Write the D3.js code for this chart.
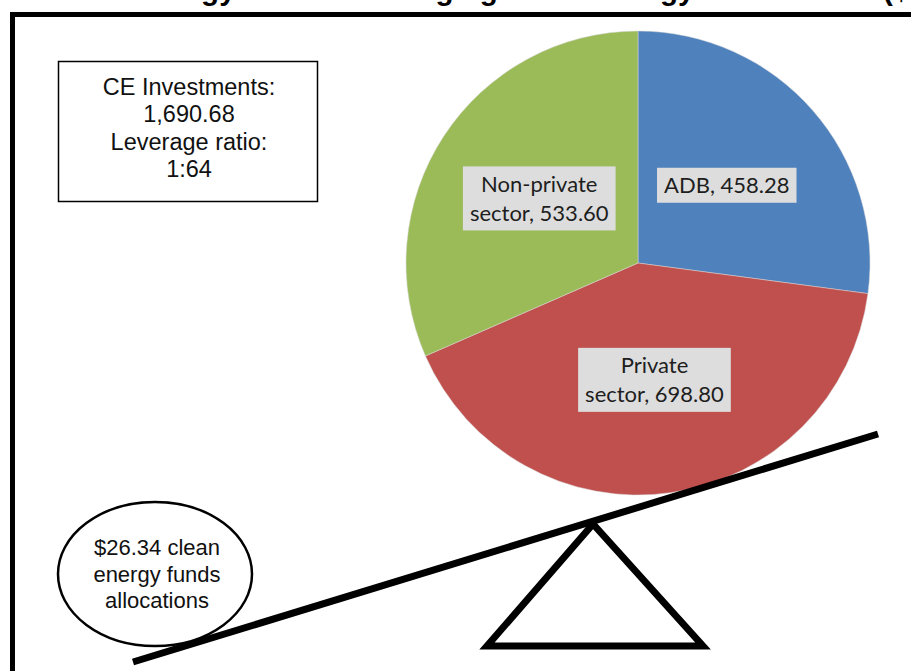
<!DOCTYPE html>
<html>
<head>
<meta charset="utf-8">
<script src="https://cdn.jsdelivr.net/npm/d3@7"></script>
<style>
  body { margin: 0; background: #fff; }
  svg { display: block; }
</style>
</head>
<body>
<div id="chart"></div>
<script>
// data
const sectors = ["ADB", "Private sector", "Non-private sector"]
const amounts = [458.28, 698.80, 533.60]
const sectorColors = ["#4F81BD", "#C0504D", "#9BBB59"]
const labelLines = [["ADB, 458.28"], ["Private", "sector, 698.80"], ["Non-private", "sector, 533.60"]]
const infoLines = ["CE Investments:", "1,690.68", "Leverage ratio:", "1:64"]
const fundLines = ["$26.34 clean", "energy funds", "allocations"]
const titleText = "Clean Energy Funds Leveraging Clean Energy Investments ($ million)"

const WIDTH = 911
const HEIGHT = 671

const svg = d3.select("#chart").append("svg")
  .attr("width", WIDTH)
  .attr("height", HEIGHT)

// title, cropped off the top in the original: only descenders show
svg.append("text")
  .attr("x", 47)
  .attr("y", 0)
  .attr("font-family", "Liberation Sans, Arial, sans-serif")
  .attr("font-weight", "bold")
  .attr("font-size", "29.5px")
  .attr("fill", "#000")
  .text(titleText)

// outer frame (right and bottom edges cut off)
svg.append("rect")
  .attr("x", 12.5)
  .attr("y", 14.5)
  .attr("width", 1000)
  .attr("height", 1000)
  .attr("fill", "none")
  .attr("stroke", "#000")
  .attr("stroke-width", 5)

// info box
const info = svg.append("g")
info.append("rect")
  .attr("x", 58.5)
  .attr("y", 61.5)
  .attr("width", 259)
  .attr("height", 140)
  .attr("fill", "#fff")
  .attr("stroke", "#000")
  .attr("stroke-width", 1.5)
info.selectAll("text")
  .data(infoLines)
  .enter().append("text")
    .attr("x", 189)
    .attr("y", (d, i) => 95 + i * 27.3)
    .attr("text-anchor", "middle")
    .attr("font-family", "Liberation Sans, Arial, sans-serif")
    .attr("font-size", "23.5px")
    .attr("fill", "#111")
    .text(d => d)

// pie
const cx = 638, cy = 263, R = 232
const pie = d3.pie().sort(null).value(d => d)
const arc = d3.arc().innerRadius(0).outerRadius(R)
const slices = pie(amounts)

const pieG = svg.append("g")
  .attr("transform", `translate(${cx}, ${cy})`)

pieG.selectAll("path")
  .data(slices)
  .enter().append("path")
    .attr("d", arc)
    .attr("fill", (d, i) => sectorColors[i])
    .attr("stroke", "#d8d8d8")
    .attr("stroke-width", 0.5)

// data labels in grey boxes
const labelArc = d3.arc().innerRadius(0).outerRadius(R + 4)
const lineH = 29
slices.forEach((d, i) => {
  const [lx, ly] = labelArc.centroid(d)
  const lines = labelLines[i]
  const g = pieG.append("g").attr("transform", `translate(${lx}, ${ly})`)
  const box = g.append("rect").attr("fill", "#DDDDDD")
  const txt = g.selectAll("text")
    .data(lines)
    .enter().append("text")
      .attr("x", 0)
      .attr("y", (t, j) => (j - (lines.length - 1) / 2) * lineH + 8)
      .attr("text-anchor", "middle")
      .attr("font-family", "Lato, Open Sans, sans-serif")
      .attr("font-size", "22px")
      .attr("fill", "#1e1e1e")
      .text(t => t)
  let w = 0
  txt.each(function () { w = Math.max(w, this.getComputedTextLength()) })
  const h = lines.length * lineH + 6
  box.attr("x", -w / 2 - 7)
    .attr("y", -h / 2)
    .attr("width", w + 14)
    .attr("height", h)
})

// seesaw plank
svg.append("line")
  .attr("x1", 133)
  .attr("y1", 662)
  .attr("x2", 878)
  .attr("y2", 434)
  .attr("stroke", "#000")
  .attr("stroke-width", 7)

// fulcrum
svg.append("path")
  .attr("d", "M593,524 L487,646 L703,646 Z")
  .attr("fill", "none")
  .attr("stroke", "#000")
  .attr("stroke-width", 7)
  .attr("stroke-linejoin", "miter")

// fund allocation bubble
const bubble = svg.append("g")
bubble.append("ellipse")
  .attr("cx", 155)
  .attr("cy", 574)
  .attr("rx", 97)
  .attr("ry", 72)
  .attr("fill", "#fff")
  .attr("stroke", "#000")
  .attr("stroke-width", 2.5)
bubble.selectAll("text")
  .data(fundLines)
  .enter().append("text")
    .attr("x", 157)
    .attr("y", (d, i) => 555 + i * 26.5)
    .attr("text-anchor", "middle")
    .attr("font-family", "Liberation Sans, Arial, sans-serif")
    .attr("font-size", "22px")
    .attr("fill", "#111")
    .text(d => d)
</script>
</body>
</html>
